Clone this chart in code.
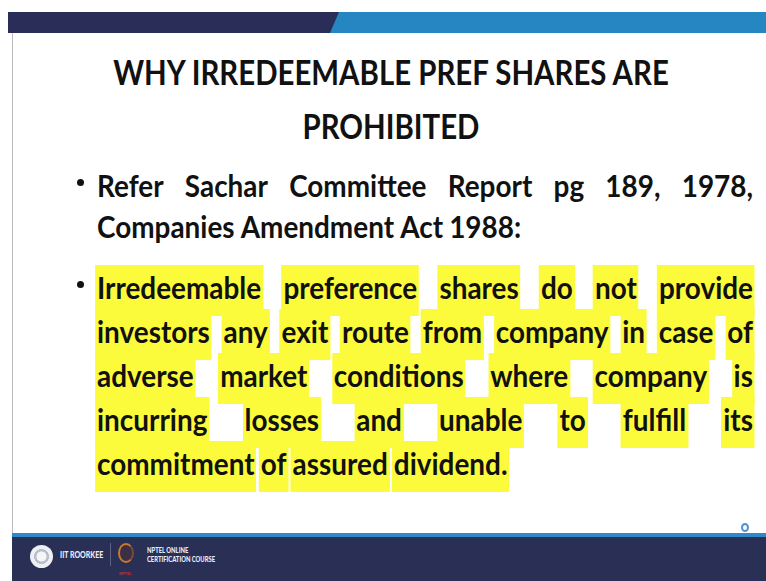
<!DOCTYPE html>
<html>
<head>
<meta charset="utf-8">
<script src="https://cdn.jsdelivr.net/npm/chart.js@4.4.1/dist/chart.umd.min.js"></script>
<style>
html, body { margin: 0; padding: 0; background: #fff; }
#slide { position: relative; width: 766px; height: 581px; overflow: hidden; background: #fff; font-family: Lato, 'Noto Sans', sans-serif; color: #111; }
.abs { position: absolute; }
.line { position: absolute; display: flex; white-space: nowrap; font-weight: 700; transform-origin: 0 0; }
.line span { display: inline-block; }
.hl span.w { background: #fbfb3c; padding: 0 2px 7px; margin: 0 -2px -7px; }
.probe { display: inline-block; width: 0; height: 0; vertical-align: baseline; padding: 0 !important; margin: 0 !important; background: none !important; }
.dot { position: absolute; width: 7px; height: 7px; border-radius: 50%; background: #111; }
.ftxt { position: absolute; color: #e9ebf4; font-weight: 900; white-space: nowrap; transform-origin: 0 50%; transform: scaleX(0.78); }
</style>
</head>
<body>
<div id="slide"></div>
<script>
// Slide text
const titleLines = ['WHY IRREDEEMABLE PREF SHARES ARE', 'PROHIBITED'];
const bullet1Lines = ['Refer Sachar Committee Report pg 189, 1978,', 'Companies Amendment Act 1988:'];
const bullet2Lines = [
    'Irredeemable preference shares do not provide',
    'investors any exit route from company in case of',
    'adverse market conditions where company is',
    'incurring losses and unable to fulfill its',
    'commitment of assured dividend.'
];
const footerLabels = ['IIT ROORKEE', 'NPTEL ONLINE', 'CERTIFICATION COURSE'];

// Layout
const slide = document.getElementById('slide');
const textLeft = 97, textRight = 753;
const bodySize = 30, titleSize = 35, pitch = 44;
const bodySquash = 0.93, titleSquash = 0.84;

function box(css) {
    const d = document.createElement('div');
    d.className = 'abs';
    d.style.cssText += css;
    slide.appendChild(d);
    return d;
}

// header band
box('left:8px;right:0;top:12px;height:21px;background:#292d58;');
box('left:8px;right:0;top:12px;height:21px;background:#2586c2;clip-path:polygon(331px 0,100% 0,100% 100%,322px 100%);');
// left rule
box('left:12px;top:33px;width:1px;height:500px;background:#bdbdbd;');

// footer
box('left:12px;right:0;top:533px;height:4px;background:#2f88c8;');
box('left:12px;right:0;top:537px;bottom:0;background:#2a2f56;');
box('left:30px;top:545px;width:23px;height:23px;border-radius:50%;background:radial-gradient(circle,#f6f6f6 0 30%,#b9bfcf 32% 45%,#eef0f4 47% 100%);');
box('left:110px;top:543px;width:1px;height:23px;background:#5b6285;');
box('left:118px;top:543px;width:12px;height:16px;border-radius:50%;border:2px solid #c97a2c;border-right-color:#7a4a3a;background:#3a2f45;');
box('left:741px;top:523px;width:4px;height:5px;border-radius:50%;border:2px solid #4d92d6;');

function footText(txt, x, y, size) {
    const d = document.createElement('div');
    d.className = 'ftxt';
    d.textContent = txt;
    d.style.left = x + 'px';
    d.style.top = y + 'px';
    d.style.fontSize = size + 'px';
    d.style.lineHeight = '10px';
    slide.appendChild(d);
}
footText(footerLabels[0], 60, 550, 9);
footText(footerLabels[1], 147, 546, 7.5);
footText(footerLabels[2], 147, 555, 7.5);
const nptel = document.createElement('div');
nptel.className = 'abs';
nptel.textContent = 'NPTEL';
nptel.style.cssText += 'left:119px;top:571px;font-size:4px;color:#c9332b;font-weight:700;';
slide.appendChild(nptel);

// place a line so its baseline sits at y
function placeLine(el, baseline) {
    const r = el.querySelector('.probe').getBoundingClientRect();
    const s = slide.getBoundingClientRect();
    el.style.top = (parseFloat(el.style.top) + baseline - (r.bottom - s.top)) + 'px';
}

function textLine(txt, baseline, opts) {
    const el = document.createElement('div');
    el.className = 'line' + (opts.highlight ? ' hl' : '');
    el.style.fontSize = opts.size + 'px';
    el.style.lineHeight = opts.lineHeight + 'px';
    el.style.top = '0px';
    if (opts.center) {
        el.style.left = '12px';
        el.style.width = '758px';
        el.style.justifyContent = 'center';
        el.style.transformOrigin = '50% 0';
    } else {
        el.style.left = textLeft + 'px';
        el.style.width = ((textRight - textLeft) / opts.squash) + 'px';
        el.style.justifyContent = opts.justify ? 'space-between' : 'flex-start';
        el.style.columnGap = (opts.size * 0.22) + 'px';
    }
    el.style.transform = 'scaleX(' + opts.squash + ')';
    const words = opts.center ? [txt] : txt.split(' ');
    words.forEach((w, i) => {
        const sp = document.createElement('span');
        sp.className = 'w';
        sp.textContent = w;
        if (i === 0) {
            const p = document.createElement('span');
            p.className = 'probe';
            sp.appendChild(p);
        }
        el.appendChild(sp);
    });
    slide.appendChild(el);
    placeLine(el, baseline);
    return el;
}

// title
const titleBase = [85, 139];
titleLines.forEach((t, i) => textLine(t, titleBase[i], { size: titleSize, lineHeight: 50, center: true, squash: titleSquash }));

// bullet 1
const b1Base = [197, 238];
bullet1Lines.forEach((t, i) => textLine(t, b1Base[i], { size: bodySize, lineHeight: pitch, squash: bodySquash, justify: i < bullet1Lines.length - 1 }));

// bullet 2 (highlighted)
const b2Start = 299;
bullet2Lines.forEach((t, i) => textLine(t, b2Start + i * pitch, { size: bodySize, lineHeight: pitch, squash: bodySquash, justify: i < bullet2Lines.length - 1, highlight: true }));

// bullet dots
[b1Base[0], b2Start].forEach(y => {
    const d = document.createElement('div');
    d.className = 'dot';
    d.style.left = '77px';
    d.style.top = (y - 18) + 'px';
    slide.appendChild(d);
});
</script>
</body>
</html>
